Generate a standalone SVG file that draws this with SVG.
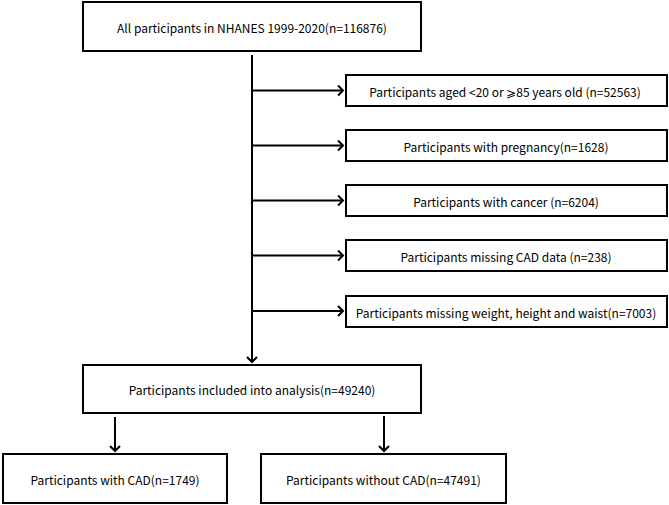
<svg xmlns="http://www.w3.org/2000/svg" width="669" height="505" viewBox="0 0 669 505">
<defs>
<style>
.box{fill:#fff;stroke:#000;stroke-width:2}
.t{font-family:"Noto Sans CJK SC","Noto Sans",sans-serif;font-size:12px;fill:#000;text-anchor:middle;dominant-baseline:central}
.c{fill:none;stroke:#000;stroke-width:2}
</style>
<marker id="ah" markerWidth="10" markerHeight="12" refX="8" refY="6" orient="auto" markerUnits="userSpaceOnUse">
<path d="M3,1 L8,6 L3,11" fill="none" stroke="#000" stroke-width="2"/>
</marker>
</defs>
<rect width="669" height="505" fill="#fff"/>
<g id="connectors">
<line class="c" x1="252" y1="55" x2="252" y2="362" marker-end="url(#ah)"/>
<line class="c" x1="252" y1="90.5" x2="343" y2="90.5" marker-end="url(#ah)"/>
<line class="c" x1="252" y1="145.5" x2="343" y2="145.5" marker-end="url(#ah)"/>
<line class="c" x1="252" y1="200.5" x2="343" y2="200.5" marker-end="url(#ah)"/>
<line class="c" x1="252" y1="255.5" x2="343" y2="255.5" marker-end="url(#ah)"/>
<line class="c" x1="252" y1="311" x2="343" y2="311" marker-end="url(#ah)"/>
<line class="c" x1="115" y1="417" x2="115" y2="451" marker-end="url(#ah)"/>
<line class="c" x1="384" y1="416" x2="384" y2="451" marker-end="url(#ah)"/>
</g>
<g id="n0"><rect class="box" x="83" y="2" width="338" height="49"/><text class="t" x="252" y="27">All participants in NHANES 1999-2020(n=116876)</text></g>
<g id="n1"><rect class="box" x="346" y="75" width="321" height="31"/><text class="t" x="505" y="91">Participants aged &lt;20 or ⩾85 years old (n=52563)</text></g>
<g id="n2"><rect class="box" x="346" y="130" width="321" height="31"/><text class="t" x="506" y="146">Participants with pregnancy(n=1628)</text></g>
<g id="n3"><rect class="box" x="346" y="185" width="321" height="31"/><text class="t" x="506" y="201">Participants with cancer (n=6204)</text></g>
<g id="n4"><rect class="box" x="346" y="240" width="321" height="31"/><text class="t" x="506" y="256">Participants missing CAD data (n=238)</text></g>
<g id="n5"><rect class="box" x="346" y="296" width="321" height="31"/><text class="t" x="506" y="312">Participants missing weight, height and waist(n=7003)</text></g>
<g id="n6"><rect class="box" x="83" y="365" width="338" height="48"/><text class="t" x="252" y="389.5">Participants included into analysis(n=49240)</text></g>
<g id="n7"><rect class="box" x="3" y="454" width="224" height="49"/><text class="t" x="115" y="479">Participants with CAD(n=1749)</text></g>
<g id="n8"><rect class="box" x="261" y="454" width="245" height="49"/><text class="t" x="383.5" y="479">Participants without CAD(n=47491)</text></g>
</svg>
